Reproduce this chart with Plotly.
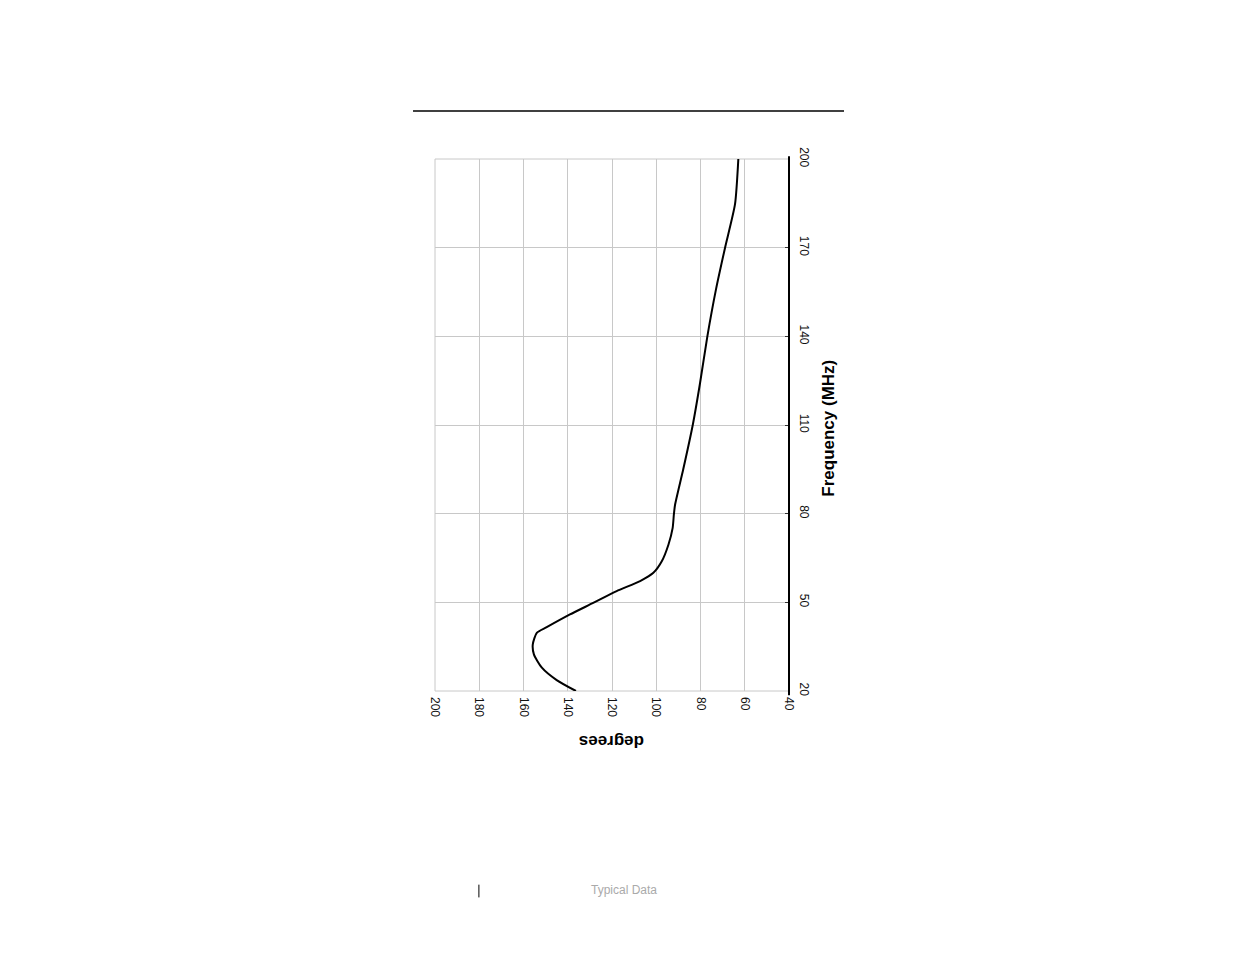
import plotly.graph_objects as go

# frequency (MHz) and phase (degrees)
freq = [20, 23.7, 28, 32.4, 35.8, 39.7, 41.6, 45.9, 49.8, 53.8, 57.2, 60,
        63.9, 69.5, 75.1, 80, 83, 95, 110, 124.2, 140, 155.9, 170, 184.7, 200]
phase = [136.3, 145, 151.8, 155.3, 155.8, 154, 149.5, 139, 128.5, 117.9,
         107.3, 101.3, 97.5, 94.5, 92.6, 92, 91.5, 87.8, 83.5, 80.2, 76.9,
         73, 68.9, 64.4, 62.9]

deg_ticks = [200, 180, 160, 140, 120, 100, 80, 60, 40]
freq_ticks = [20, 50, 80, 110, 140, 170, 200]

grid = "#c8c8c8"
tick_font = dict(family="Liberation Sans, Arial", size=12, color="#111")

fig = go.Figure()
fig.add_trace(go.Scatter(
    x=phase, y=freq, mode="lines",
    line=dict(color="black", width=2, shape="spline", smoothing=0.6),
    hoverinfo="skip", showlegend=False,
))

# the page body adds an 8px offset, so margins are shifted by that much
fig.update_layout(
    width=1219, height=938,
    margin=dict(l=427, r=438, t=151, b=255, autoexpand=False),
    paper_bgcolor="white", plot_bgcolor="white",
    xaxis=dict(
        range=[200, 40], tickvals=deg_ticks, ticktext=[str(v) for v in deg_ticks],
        tickangle=90, tickfont=tick_font, showgrid=True, gridcolor=grid,
        gridwidth=1, zeroline=False, showline=False, ticks="",
        ticklabelstandoff=5,
    ),
    yaxis=dict(
        range=[20, 200], side="right", tickvals=freq_ticks,
        tickangle=90, tickfont=tick_font, showgrid=True, gridcolor=grid,
        gridwidth=1, zeroline=False, showline=False,
        ticks="inside", ticklen=4, tickcolor="#333", ticklabelstandoff=8,
    ),
    shapes=[
        dict(type="rect", xref="paper", yref="paper", x0=0, x1=1, y0=0, y1=1,
             line=dict(color=grid, width=1), layer="below"),
        dict(type="line", xref="paper", yref="paper", x0=1, x1=1,
             y0=-0.008, y1=1.005, line=dict(color="black", width=2)),
        dict(type="line", xref="paper", yref="paper", x0=-0.0621, x1=1.1554,
             y0=1.0902, y1=1.0902, line=dict(color="black", width=1.5)),
        dict(type="line", xref="paper", yref="paper", x0=0.124, x1=0.124,
             y0=-0.364, y1=-0.388, line=dict(color="black", width=1)),
    ],
    annotations=[
        dict(text="<b>degrees</b>", xref="paper", yref="paper", x=0.4986,
             y=-0.1165, showarrow=False, textangle=180,
             font=dict(family="Liberation Sans, Arial", size=17, color="black")),
        dict(text="<b>Frequency (MHz)</b>", xref="paper", yref="paper",
             x=1.1441, y=0.494, showarrow=False, textangle=-90,
             font=dict(family="Liberation Sans, Arial", size=17, color="black")),
        dict(text="Typical Data", xref="paper", yref="paper", x=0.534,
             y=-0.391, showarrow=False,
             font=dict(family="Liberation Sans, Arial", size=12, color="#aaaaaa")),
    ],
)

fig.write_html("out.html")
